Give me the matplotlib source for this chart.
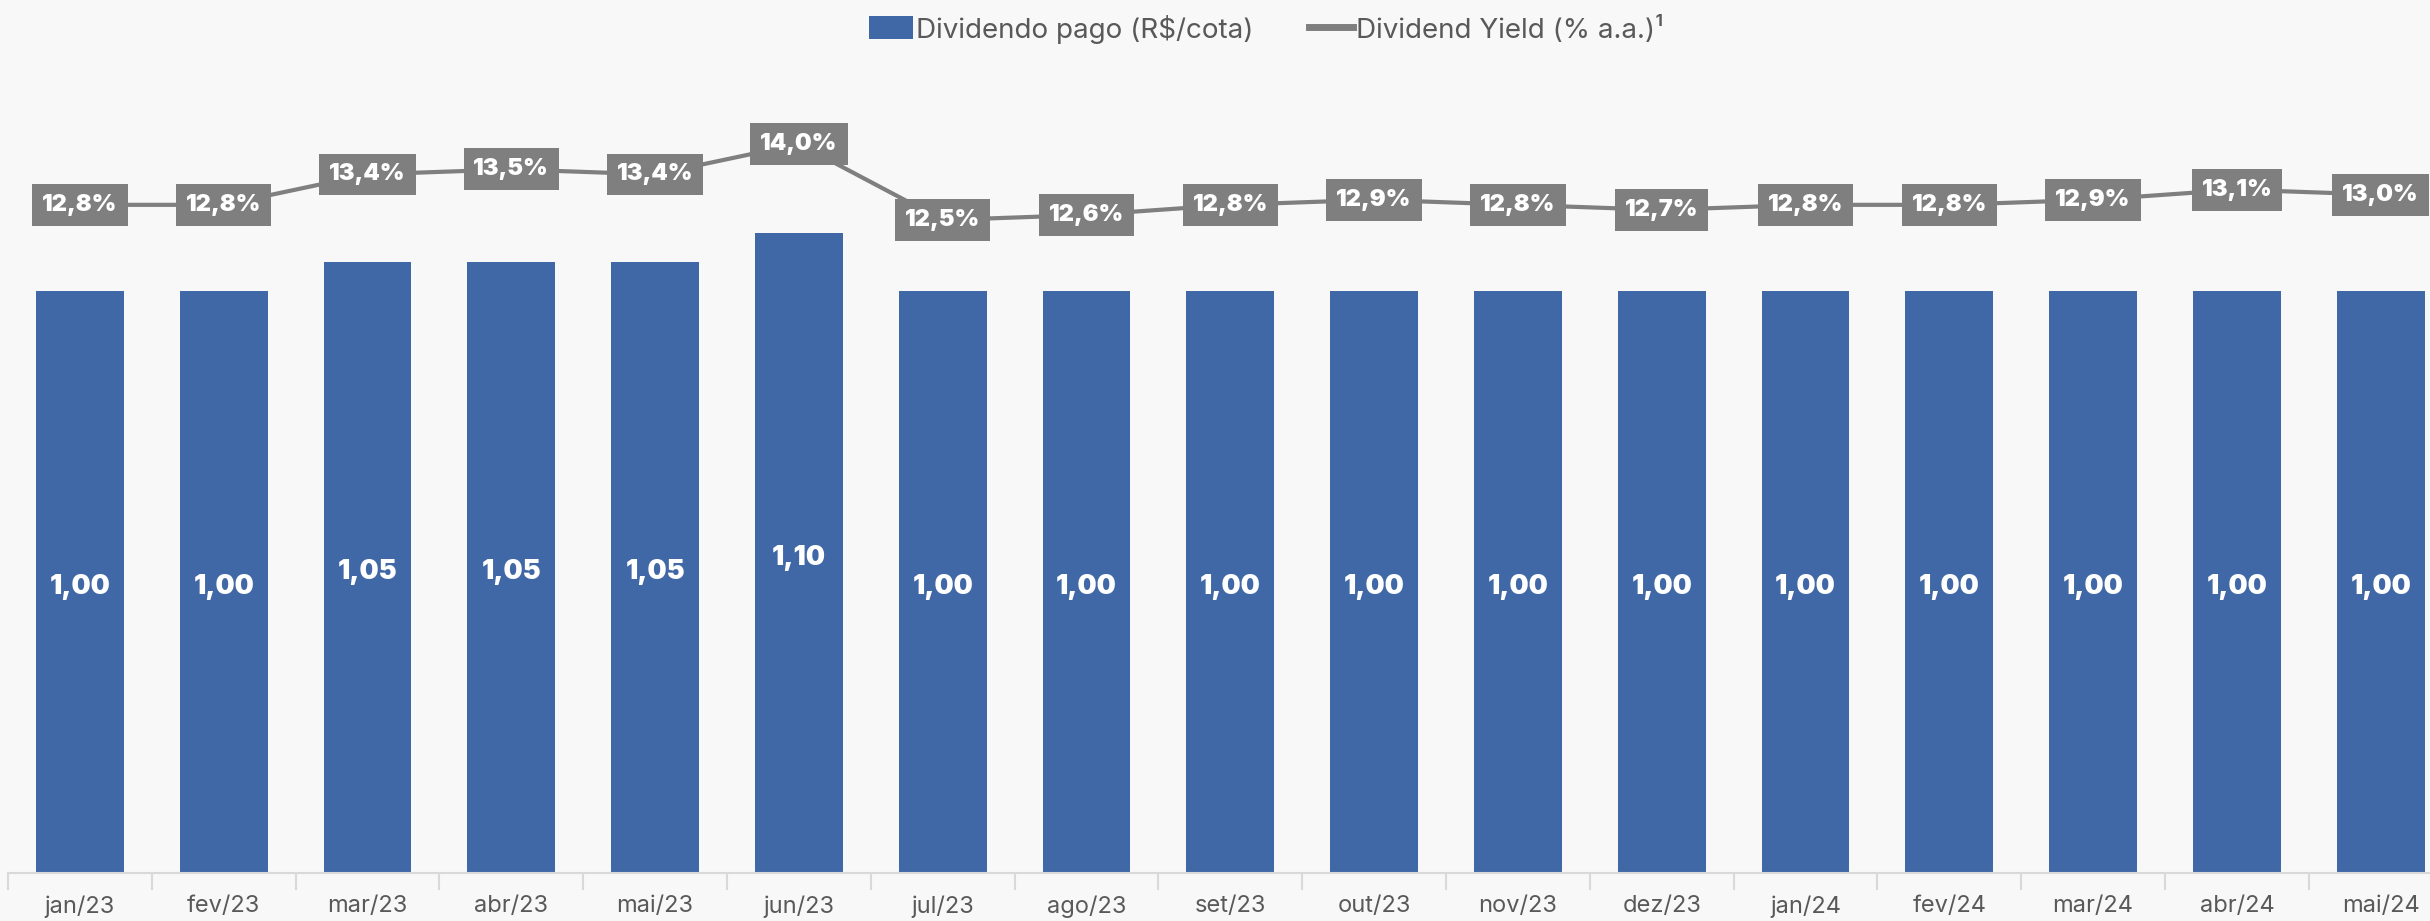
import numpy as np
import matplotlib.pyplot as plt
from matplotlib.patches import Patch
from matplotlib.lines import Line2D

plt.rcParams['font.family'] = ['Inter', 'DejaVu Sans']

meses = ['jan/23', 'fev/23', 'mar/23', 'abr/23', 'mai/23', 'jun/23', 'jul/23', 'ago/23',
         'set/23', 'out/23', 'nov/23', 'dez/23', 'jan/24', 'fev/24', 'mar/24', 'abr/24', 'mai/24']
dividendo = [1.00, 1.00, 1.05, 1.05, 1.05, 1.10, 1.00, 1.00, 1.00, 1.00, 1.00, 1.00,
             1.00, 1.00, 1.00, 1.00, 1.00]
dy = [12.8, 12.8, 13.4, 13.5, 13.4, 14.0, 12.5, 12.6, 12.8, 12.9, 12.8, 12.7,
      12.8, 12.8, 12.9, 13.1, 13.0]

azul = '#4068a6'
cinza = '#7f7f7f'
texto = '#595959'

W, H = 2430, 921
fig = plt.figure(figsize=(W / 100, H / 100), dpi=100)
fig.patch.set_facecolor('#f8f8f8')

# eixo em pixels: esquerda 8, base 873, topo 60, 143.8 px por categoria
left = 8 / W
bottom = (H - 873) / H
height = (873 - 60) / H
width = 17 * 143.8 / W
ax = fig.add_axes([left, bottom, width, height])
ax.set_facecolor('none')

x = np.arange(len(meses))
ax.bar(x, dividendo, width=0.61, color=azul, zorder=2)
ax.set_xlim(-0.5, 16.5)
ax.set_ylim(0, 813 / 582)

for xi, v in zip(x, dividendo):
    ax.text(xi, v / 2 - 0.008, f'{v:.2f}'.replace('.', ','), ha='center', va='center',
            color='white', fontsize=19.5, fontweight=900, zorder=3)

for s in ['top', 'right', 'left']:
    ax.spines[s].set_visible(False)
ax.spines['bottom'].set_color('#d9d9d9')
ax.spines['bottom'].set_linewidth(1.5)
ax.set_yticks([])
ax.set_xticks(x)
ax.set_xticklabels(meses, fontsize=17, color=texto)
ax.tick_params(axis='x', length=0, pad=16)
ax.set_xticks(np.arange(-0.5, 17, 1), minor=True)
ax.tick_params(axis='x', which='minor', length=12, color='#d9d9d9', width=1.5)

ax2 = ax.twinx()
ax2.set_ylim(14.0 - 729 / 50.7, 14.0 + 84 / 50.7)
ax2.plot(x, dy, color=cinza, linewidth=3, zorder=2)
for xi, v in zip(x, dy):
    ax2.text(xi, v, f'{v:.1f}%'.replace('.', ','), ha='center', va='center',
             color='white', fontsize=17, fontweight=900, zorder=4,
             bbox=dict(boxstyle='square,pad=0.42', fc=cinza, ec='none'))
ax2.axis('off')

handles = [Patch(facecolor=azul, edgecolor='none'),
           Line2D([0], [0], color=cinza, linewidth=5)]
fig.legend(handles, ['Dividendo pago (R$/cota)', 'Dividend Yield (% a.a.)¹'],
           loc='center', bbox_to_anchor=(0.521, 1 - 29 / H), ncol=2, frameon=False,
           fontsize=20, labelcolor=texto, handlelength=1.6, handleheight=0.9,
           handletextpad=0.1, columnspacing=2.0)

fig.savefig('out.png', dpi=100, facecolor=fig.get_facecolor())
